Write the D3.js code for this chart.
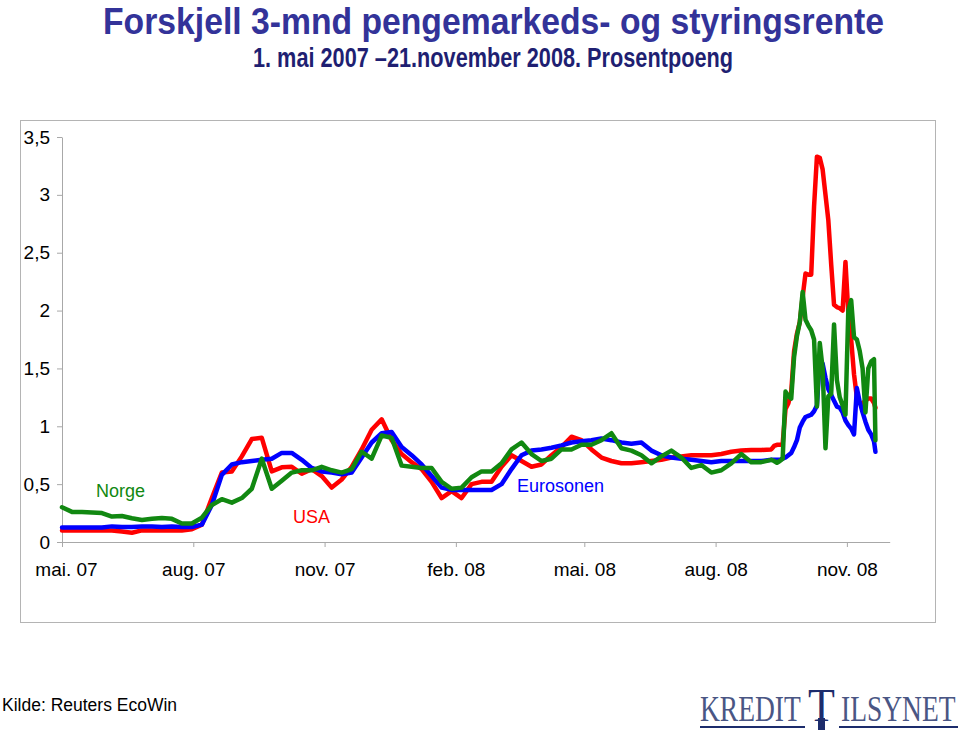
<!DOCTYPE html>
<html>
<head>
<meta charset="utf-8">
<script src="https://cdn.jsdelivr.net/npm/d3@7"></script>
<style>
  html, body { margin: 0; padding: 0; background: #fff; }
  svg { display: block; }
</style>
</head>
<body>
<script>
// ---------------- DATA ----------------
const titleText = "Forskjell 3-mnd pengemarkeds- og styringsrente";
const subtitleText = "1. mai 2007 \u201321.november 2008. Prosentpoeng";
const sourceText = "Kilde: Reuters EcoWin";
const logoParts = ["KREDIT", "T", "ILSYNET"];

const dates = [
  "2007-05-01","2007-05-08","2007-05-15","2007-05-22","2007-05-29","2007-06-05","2007-06-12","2007-06-19",
  "2007-06-26","2007-07-03","2007-07-10","2007-07-17","2007-07-24","2007-07-31","2007-08-07","2007-08-14",
  "2007-08-21","2007-08-28","2007-09-04","2007-09-11","2007-09-18","2007-09-25","2007-10-02","2007-10-09",
  "2007-10-16","2007-10-23","2007-10-30","2007-11-06","2007-11-13","2007-11-20","2007-11-27","2007-12-04",
  "2007-12-11","2007-12-18","2007-12-25","2008-01-01","2008-01-08","2008-01-15","2008-01-22","2008-01-29",
  "2008-02-05","2008-02-12","2008-02-19","2008-02-26","2008-03-04","2008-03-11","2008-03-18","2008-03-25",
  "2008-04-01","2008-04-08","2008-04-15","2008-04-22","2008-04-29","2008-05-06","2008-05-13","2008-05-20",
  "2008-05-27","2008-06-03","2008-06-10","2008-06-17","2008-06-24","2008-07-01","2008-07-08","2008-07-15",
  "2008-07-22","2008-07-29","2008-08-05","2008-08-12","2008-08-19","2008-08-26","2008-09-02","2008-09-09",
  "2008-09-11","2008-09-13","2008-09-15","2008-09-17","2008-09-19","2008-09-21","2008-09-23","2008-09-25",
  "2008-09-27","2008-09-29","2008-10-01","2008-10-03","2008-10-05","2008-10-07","2008-10-09","2008-10-11",
  "2008-10-13","2008-10-15","2008-10-17","2008-10-19","2008-10-21","2008-10-23","2008-10-25","2008-10-27",
  "2008-10-29","2008-10-31","2008-11-02","2008-11-04","2008-11-06","2008-11-08","2008-11-10","2008-11-12",
  "2008-11-14","2008-11-16","2008-11-18","2008-11-20","2008-11-21"
];

const usaValues = [
  0.10,0.10,0.10,0.10,0.10,0.10,0.09,0.08,0.10,0.10,0.10,0.10,0.10,0.11,0.15,0.38,
  0.60,0.61,0.74,0.89,0.90,0.61,0.645,0.65,0.59,0.63,0.57,0.47,0.54,0.65,0.80,0.97,
  1.06,0.88,0.76,0.69,0.63,0.52,0.38,0.44,0.38,0.50,0.52,0.52,0.65,0.75,0.70,0.65,
  0.67,0.75,0.82,0.91,0.88,0.80,0.73,0.70,0.68,0.68,0.69,0.70,0.71,0.73,0.74,0.75,
  0.75,0.75,0.76,0.78,0.79,0.795,0.795,0.80,
  0.83,0.84,0.84,0.85,1.15,1.20,1.30,1.65,1.80,1.90,2.12,2.32,2.31,2.31,2.90,3.33,
  3.32,3.22,3.00,2.78,2.40,2.05,2.03,2.02,2.00,2.42,1.98,1.75,1.45,1.25,1.20,1.20,
  1.22,1.24,1.24,1.20,1.16
];

const euroValues = [
  0.125,0.125,0.125,0.125,0.125,0.135,0.13,0.13,0.135,0.135,0.13,0.135,0.13,0.13,0.15,0.32,
  0.58,0.67,0.69,0.70,0.71,0.72,0.77,0.77,0.71,0.64,0.61,0.60,0.585,0.60,0.73,0.86,
  0.94,0.95,0.82,0.75,0.67,0.57,0.47,0.45,0.45,0.45,0.45,0.45,0.50,0.63,0.75,0.79,
  0.80,0.815,0.835,0.86,0.87,0.88,0.895,0.88,0.86,0.85,0.86,0.79,0.75,0.73,0.72,0.71,
  0.70,0.69,0.70,0.70,0.70,0.70,0.70,0.71,
  0.71,0.71,0.71,0.72,0.73,0.75,0.77,0.82,0.88,0.99,1.04,1.08,1.09,1.10,1.13,1.18,
  1.58,1.54,1.42,1.32,1.27,1.22,1.17,1.16,1.12,1.05,1.01,0.98,0.93,1.33,1.21,1.12,
  1.04,0.97,0.93,0.87,0.78
];

const norgeValues = [
  0.30,0.26,0.26,0.255,0.25,0.22,0.225,0.205,0.19,0.20,0.207,0.20,0.16,0.16,0.21,0.32,
  0.37,0.34,0.38,0.46,0.72,0.46,0.53,0.60,0.62,0.62,0.65,0.62,0.60,0.63,0.78,0.72,
  0.92,0.90,0.66,0.65,0.64,0.64,0.52,0.46,0.47,0.56,0.61,0.61,0.68,0.80,0.86,0.76,
  0.70,0.72,0.80,0.80,0.84,0.84,0.88,0.94,0.81,0.79,0.75,0.68,0.74,0.79,0.73,0.64,
  0.665,0.60,0.62,0.68,0.76,0.69,0.69,0.71,
  0.70,0.685,0.70,0.72,1.30,1.26,1.24,1.60,1.78,1.90,2.16,1.92,1.87,1.83,1.75,1.17,
  1.72,1.50,0.81,1.26,1.28,1.88,1.40,1.25,1.18,1.10,2.00,2.09,1.77,1.75,1.65,1.50,
  1.12,1.50,1.56,1.58,0.88
];

const seriesNames = ["USA", "Eurosonen", "Norge"];
const seriesColors = ["#ff0000", "#0000ff", "#118811"];

const yTicks = [0, 0.5, 1, 1.5, 2, 2.5, 3, 3.5];
const xTickDates = ["2007-05-01","2007-08-01","2007-11-01","2008-02-01","2008-05-01","2008-08-01","2008-11-01"];
const xTickLabels = ["mai. 07","aug. 07","nov. 07","feb. 08","mai. 08","aug. 08","nov. 08"];

// ---------------- CHART ----------------
const W = 960, H = 731;
const SANS = "'Liberation Sans', Arial, sans-serif";
const SERIF = "'Liberation Serif', 'DejaVu Serif', serif";
const parse = d3.timeParse("%Y-%m-%d");
const svg = d3.select("body").append("svg").attr("width", W).attr("height", H)
  .style("font-family", SANS);

svg.append("rect").attr("width", W).attr("height", H).attr("fill", "#fff");

// title
svg.append("text").attr("x", 103).attr("y", 34)
  .attr("textLength", 781).attr("lengthAdjust", "spacingAndGlyphs")
  .attr("font-size", 37).attr("font-weight", "bold").attr("fill", "#333399")
  .text(titleText);
svg.append("text").attr("x", 253).attr("y", 67)
  .attr("textLength", 480).attr("lengthAdjust", "spacingAndGlyphs")
  .attr("font-size", 27).attr("font-weight", "bold").attr("fill", "#1f1f72")
  .text(subtitleText);

// chart frame
svg.append("rect").attr("x", 20.5).attr("y", 120.5).attr("width", 915).attr("height", 502)
  .attr("fill", "none").attr("stroke", "#b4b4b4").attr("stroke-width", 1);

const x = d3.scaleTime()
  .domain([parse("2007-05-01"), parse("2008-12-01")])
  .range([62, 889.7]);
const y = d3.scaleLinear().domain([0, 3.5]).range([542, 137]);

const axisColor = "#a8a8a8";
const yAxis = d3.axisLeft(y).tickValues(yTicks).tickSize(5).tickSizeOuter(0).tickPadding(7)
  .tickFormat(d => String(d).replace(".", ","));
const gy = svg.append("g").attr("transform", "translate(62,0)").call(yAxis);
gy.select(".domain").attr("stroke", axisColor);
gy.selectAll(".tick line").attr("stroke", axisColor);
gy.selectAll(".tick text").attr("font-size", 19).attr("fill", "#000").style("font-family", SANS);

const xAxis = d3.axisBottom(x).tickValues(xTickDates.map(parse)).tickSize(5).tickSizeOuter(0).tickPadding(16)
  .tickFormat((d, i) => xTickLabels[i]);
const gx = svg.append("g").attr("transform", "translate(0,542)").call(xAxis);
gx.select(".domain").attr("stroke", axisColor);
gx.selectAll(".tick line").attr("stroke", axisColor);
gx.selectAll(".tick text").attr("font-size", 19).attr("fill", "#000").style("font-family", SANS);
gx.selectAll(".tick text").filter((d, i) => i === 0).attr("dx", 4);

// lines
const allValues = [usaValues, euroValues, norgeValues];
const line = d3.line().x(d => x(d.date)).y(d => y(d.value));
allValues.forEach((vals, si) => {
  const data = dates.map((d, i) => ({ date: parse(d), value: vals[i] }));
  svg.append("path").datum(data)
    .attr("fill", "none")
    .attr("stroke", seriesColors[si])
    .attr("stroke-width", 4.5)
    .attr("stroke-linejoin", "round")
    .attr("stroke-linecap", "round")
    .attr("d", line);
});

// series labels
const labelPos = [
  { x: 293, y: 523 },  // USA
  { x: 517, y: 492 },  // Eurosonen
  { x: 96,  y: 497 }   // Norge
];
seriesNames.forEach((name, i) => {
  svg.append("text").attr("x", labelPos[i].x).attr("y", labelPos[i].y)
    .attr("font-size", 18).attr("fill", seriesColors[i])
    .text(name);
});

// source
svg.append("text").attr("x", 2).attr("y", 711).attr("font-size", 17.5).attr("fill", "#000")
  .text(sourceText);

// logo
const logo = svg.append("g");
logo.append("text").attr("transform", "translate(700,721) scale(1,1.3)").style("font-family", SERIF)
  .attr("font-size", 27.5).attr("fill", "#4a5684").text(logoParts[0]);
logo.append("text").attr("transform", "translate(808,721) scale(1,1.05)").style("font-family", SERIF)
  .attr("font-size", 44).attr("fill", "#1c2c6c").text(logoParts[1]);
logo.append("text").attr("transform", "translate(841,721) scale(1,1.3)").style("font-family", SERIF)
  .attr("font-size", 27.5).attr("fill", "#4a5684").text(logoParts[2]);
logo.append("line").attr("x1", 700).attr("x2", 805).attr("y1", 727).attr("y2", 727)
  .attr("stroke", "#1c2c6c").attr("stroke-width", 2);
logo.append("line").attr("x1", 839).attr("x2", 958).attr("y1", 727).attr("y2", 727)
  .attr("stroke", "#1c2c6c").attr("stroke-width", 2);
logo.append("rect").attr("x", 818).attr("y", 718).attr("width", 7).attr("height", 12)
  .attr("fill", "#1c2c6c");
</script>
</body>
</html>
